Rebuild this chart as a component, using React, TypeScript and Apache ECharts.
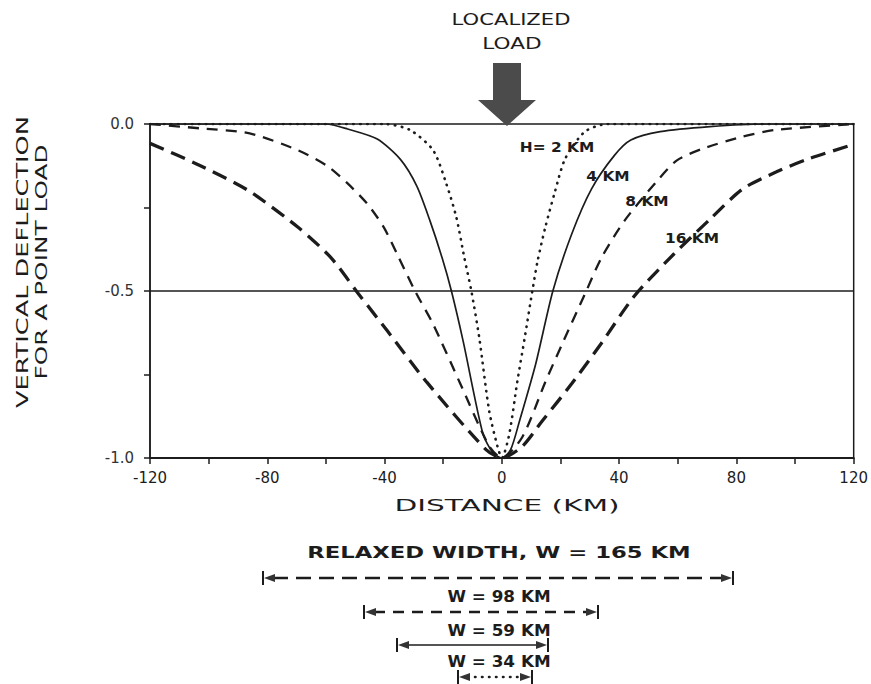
import React, { useEffect, useRef } from "react";
import * as echarts from "echarts";

// ---- data (km, normalized deflection) ----
const H2_X = [-120, -40, -31.3, -23.4, -18.9, -15.5, -12.8, -10.4, -7.7, -4.3, -1.5, 0, 2.5, 5.3, 7.8, 10.4, 12.2, 14.8, 18.2, 21.6, 28.3, 36, 120];
const H2_Y = [0, 0, -0.018, -0.079, -0.18, -0.28, -0.4, -0.5, -0.64, -0.86, -0.965, -1.0, -0.93, -0.77, -0.64, -0.5, -0.41, -0.31, -0.2, -0.104, -0.023, 0, 0];

const H4_X = [-120, -60, -52.6, -42.5, -34.6, -29, -24.5, -20.4, -17.2, -13.2, -6.5, -3, 0, 3, 6, 11.5, 17.4, 23.8, 30.6, 38.4, 44, 54, 71, 90, 120];
const H4_Y = [0, 0, -0.015, -0.045, -0.106, -0.186, -0.29, -0.4, -0.5, -0.65, -0.926, -0.985, -1.0, -0.975, -0.89, -0.72, -0.5, -0.33, -0.194, -0.094, -0.048, -0.023, -0.008, 0, 0];

const H8_X = [-120, -103, -86, -69.4, -59.3, -52.6, -45.8, -40.2, -35.7, -29.6, -23.4, -14.4, -4.3, 0, 7, 14.8, 20.5, 28.8, 34, 41.8, 53, 59.7, 68.8, 82, 93, 120];
const H8_Y = [0, -0.013, -0.028, -0.079, -0.127, -0.178, -0.24, -0.31, -0.39, -0.5, -0.6, -0.773, -0.965, -1.0, -0.937, -0.773, -0.66, -0.5, -0.4, -0.29, -0.17, -0.109, -0.073, -0.038, -0.018, 0];

const H16_X = [-120, -103, -86.3, -69.4, -58.3, -49.2, -39, -25.6, -5.4, 0, 7, 13.7, 23.8, 33.9, 45.2, 58.6, 71, 82.2, 93.5, 104.7, 119.3];
const H16_Y = [-0.058, -0.124, -0.2, -0.31, -0.4, -0.505, -0.62, -0.773, -0.975, -1.0, -0.965, -0.89, -0.778, -0.657, -0.515, -0.39, -0.285, -0.194, -0.144, -0.104, -0.063];

const THICKNESS_LABELS = ["H= 2 KM", "4 KM", "8 KM", "16 KM"];
const WIDTHS_KM = [165, 98, 59, 34];
const REFERENCE_LEVEL = -0.5;
const X_RANGE = [-120, 120];

const zip = (xs: number[], ys: number[]) => xs.map((x, i) => [x, ys[i]]);

const INK = "#1c1c1c";
const FONT = "DejaVu Sans";

// line styles per curve (2, 4, 8, 16 km)
const CURVE_STYLES = [
  { width: 2.6, type: [0.5, 6.5], cap: "round" },
  { width: 1.7, type: "solid", cap: "butt" },
  { width: 2.3, type: [11, 8], cap: "butt" },
  { width: 3.3, type: [15, 8], cap: "butt" },
];

// annotation layout (pixels)
const CURVE_LABEL_POS = [
  [557, 147],
  [608, 176],
  [647, 201],
  [692, 238],
];
const BAR_LAYOUT = [
  { textY: 553, y: 578, x1: 263, x2: 733, styleIdx: 3, scale: 1.42 },
  { textY: 597, y: 612, x1: 364, x2: 598, styleIdx: 2, scale: 1.05 },
  { textY: 631, y: 645, x1: 397, x2: 548, styleIdx: 1, scale: 1.05 },
  { textY: 662, y: 677, x1: 458, x2: 532, styleIdx: 0, scale: 1.05 },
];

function textEl(text: string, x: number, y: number, size: number, opts: any = {}) {
  return {
    type: "text",
    x,
    y,
    rotation: opts.rotation || 0,
    scaleX: opts.scaleX || 1,
    style: {
      text,
      fill: opts.fill || INK,
      font: `${opts.weight || "normal"} ${size}px "${FONT}"`,
      align: "center",
      verticalAlign: "middle",
    },
  };
}

function barEl(b: any, label: string) {
  const cs = CURVE_STYLES[b.styleIdx];
  const dash = Array.isArray(cs.type) ? cs.type : null;
  const ah = 10;
  return {
    type: "group",
    children: [
      textEl(label, 499, b.textY, 16, { weight: "bold", scaleX: b.scale }),
      {
        type: "line",
        shape: { x1: b.x1 + ah, y1: b.y, x2: b.x2 - ah, y2: b.y },
        style: { stroke: INK, lineWidth: Math.min(cs.width, 2.6), lineDash: dash, lineCap: cs.cap },
      },
      { type: "line", shape: { x1: b.x1, y1: b.y - 7, x2: b.x1, y2: b.y + 7 }, style: { stroke: INK, lineWidth: 2 } },
      { type: "line", shape: { x1: b.x2, y1: b.y - 7, x2: b.x2, y2: b.y + 7 }, style: { stroke: INK, lineWidth: 2 } },
      {
        type: "polygon",
        shape: { points: [[b.x1 + 1, b.y], [b.x1 + ah + 2, b.y - 4], [b.x1 + ah + 2, b.y + 4]] },
        style: { fill: "#333" },
      },
      {
        type: "polygon",
        shape: { points: [[b.x2 - 1, b.y], [b.x2 - ah - 2, b.y - 4], [b.x2 - ah - 2, b.y + 4]] },
        style: { fill: "#333" },
      },
    ],
  };
}

export default function App() {
  const ref = useRef<HTMLDivElement>(null);
  useEffect(() => {
    document.body.style.margin = "0";
    const chart = echarts.init(ref.current!, null, { renderer: "svg" });
    const curves = [zip(H2_X, H2_Y), zip(H4_X, H4_Y), zip(H8_X, H8_Y), zip(H16_X, H16_Y)];
    const series: any[] = curves.map((data, i) => ({
      type: "line",
      name: THICKNESS_LABELS[i],
      data,
      showSymbol: false,
      smooth: 0.25,
      lineStyle: { color: INK, width: CURVE_STYLES[i].width, type: CURVE_STYLES[i].type, cap: CURVE_STYLES[i].cap },
      z: 3,
    }));
    series.push({
      type: "line",
      name: "reference",
      data: X_RANGE.map((x) => [x, REFERENCE_LEVEL]),
      showSymbol: false,
      lineStyle: { color: INK, width: 1.5, type: "solid" },
      z: 2,
    });

    const graphic: any[] = [
      textEl("LOCALIZED", 511, 19, 16, { scaleX: 1.32 }),
      textEl("LOAD", 512, 43, 16, { scaleX: 1.35 }),
      {
        type: "polygon",
        shape: {
          points: [
            [493, 63],
            [521, 63],
            [521, 100],
            [536, 100],
            [507, 126],
            [478, 100],
            [493, 100],
          ],
        },
        style: { fill: "#4b4b4b" },
      },
      textEl("VERTICAL DEFLECTION", 22, 262, 16, { rotation: Math.PI / 2, scaleX: 1.6 }),
      textEl("FOR A POINT LOAD", 42, 262, 16, { rotation: Math.PI / 2, scaleX: 1.55 }),
      textEl("DISTANCE (KM)", 507, 506, 16, { scaleX: 1.85 }),
      ...THICKNESS_LABELS.map((t, i) =>
        textEl(t, CURVE_LABEL_POS[i][0], CURVE_LABEL_POS[i][1], 14, { weight: "bold", scaleX: 1.1 })
      ),
      ...WIDTHS_KM.map((w, i) =>
        barEl(BAR_LAYOUT[i], i === 0 ? `RELAXED WIDTH, W = ${w} KM` : `W = ${w} KM`)
      ),
    ];

    chart.setOption({
      animation: false,
      backgroundColor: "#ffffff",
      grid: {
        left: 150,
        right: 10,
        top: 124,
        bottom: 226,
        show: true,
        borderColor: INK,
        borderWidth: 1.5,
        backgroundColor: "transparent",
      },
      xAxis: {
        type: "value",
        min: X_RANGE[0],
        max: X_RANGE[1],
        interval: 20,
        splitLine: { show: false },
        axisLine: { onZero: false, lineStyle: { color: INK, width: 2 } },
        axisTick: { inside: false, length: 6, lineStyle: { color: INK, width: 1.5 } },
        axisLabel: {
          color: INK,
          fontFamily: FONT,
          fontSize: 15,
          margin: 12,
          formatter: (v: number) => (v % 40 === 0 ? String(v) : ""),
        },
      },
      yAxis: {
        type: "value",
        min: -1,
        max: 0,
        interval: 0.25,
        splitLine: { show: false },
        axisLine: { onZero: false, lineStyle: { color: INK, width: 1.5 } },
        axisTick: { inside: false, length: 6, lineStyle: { color: INK, width: 1.5 } },
        axisLabel: {
          color: "#333",
          fontFamily: FONT,
          fontSize: 15,
          margin: 16,
          formatter: (v: number) => (Math.abs(v) < 1e-9 ? "0.0" : v === -0.5 ? "-0.5" : v === -1 ? "-1.0" : ""),
        },
      },
      series,
      graphic,
    });
    return () => chart.dispose();
  }, []);
  return <div ref={ref} style={{ width: 871, height: 684 }} />;
}
